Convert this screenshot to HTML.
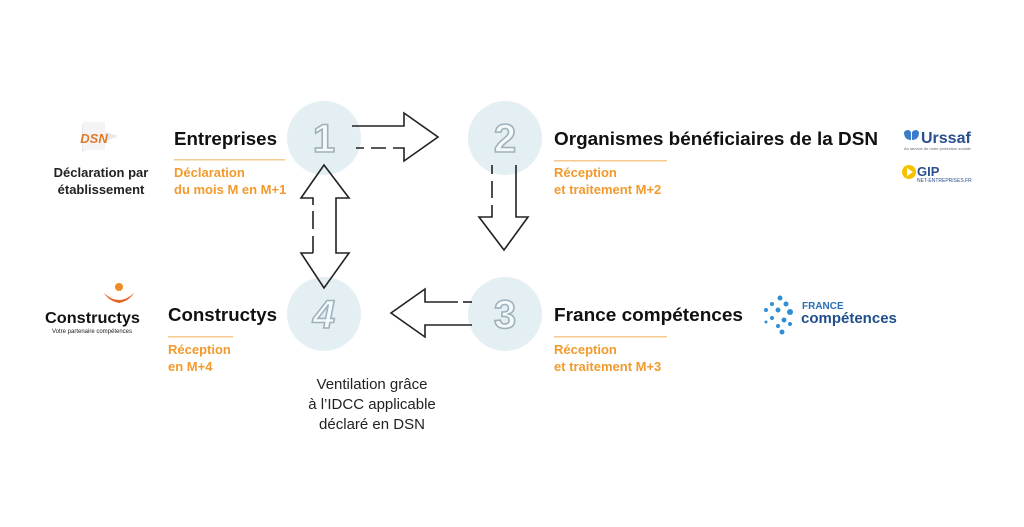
<!DOCTYPE html>
<html><head><meta charset="utf-8"><style>
html,body{margin:0;padding:0;background:#fff;}
svg{display:block}
text{font-family:"Liberation Sans",sans-serif;}
.t{font-size:18px;font-weight:bold;fill:#111;}
.o{font-size:13px;font-weight:bold;fill:#f29a2e;}
.n{font-size:40px;font-weight:bold;fill:#f4f9fa;stroke:#9fb1bd;stroke-width:1.6;}
</style></head><body>
<svg width="1024" height="527" viewBox="0 0 1024 527">
<rect width="1024" height="527" fill="#fff"/>
<g fill="#e3eff2">
<circle cx="324" cy="138" r="37"/><circle cx="505" cy="138" r="37"/>
<circle cx="505" cy="314" r="37"/><circle cx="324" cy="314" r="37"/>
</g>
<text class="n" x="324" y="152" text-anchor="middle">1</text>
<text class="n" x="505" y="152" text-anchor="middle">2</text>
<text class="n" x="505" y="328" text-anchor="middle">3</text>
<text class="n" x="324" y="328" text-anchor="middle" font-style="italic">4</text>
<g fill="none" stroke="#222" stroke-width="1.6">
<path d="M352 126 H404 V113 L438 137 L404 161 V148 H393"/>
<path d="M356 148 H364 M371 148 H386"/>
<path d="M516 165 V217 H528 L504 250 L479 217 H492 V205"/>
<path d="M492 165 V174 M492 181 V198"/>
<path d="M472 325 H425 V337 L391 313 L425 289 V302 H458"/>
<path d="M463 302 H472"/>
<path d="M313 253 V236 M313 229 V211 M313 205 V198 H301 L324 165 L349 198 H336 V253 H349 L324 288 L301 253 H313"/>
</g>
<path d="M82 124 L118 136 L82 152 Z" fill="#e8e8ec"/>
<rect x="83" y="122" width="22" height="28" fill="#f4f4f6"/>
<text x="94" y="143" font-size="13" font-weight="bold" fill="#e07a2a" text-anchor="middle" font-style="italic">DSN</text>
<text x="101" y="177" font-size="13" font-weight="bold" fill="#222" text-anchor="middle">Déclaration par</text>
<text x="101" y="194" font-size="13" font-weight="bold" fill="#222" text-anchor="middle">établissement</text>
<text class="t" x="174" y="145" textLength="103" lengthAdjust="spacingAndGlyphs">Entreprises</text>
<rect x="174" y="159" width="111" height="1.5" fill="#f6c98f"/>
<text class="o" x="174" y="177">Déclaration</text>
<text class="o" x="174" y="194">du mois M en M+1</text>
<text class="t" x="554" y="145" textLength="324" lengthAdjust="spacingAndGlyphs">Organismes bénéficiaires de la DSN</text>
<rect x="554" y="160" width="113" height="1.5" fill="#f6c98f"/>
<text class="o" x="554" y="177">Réception</text>
<text class="o" x="554" y="194">et traitement M+2</text>
<path d="M904 132 q4 -4 7 0 v8 q-7 0 -7 -8z M912 132 q4 -4 7 0 q0 8 -7 8z" fill="#3d7cc9"/>
<text x="921" y="143" font-size="16" font-weight="bold" fill="#2a4f8f">Urssaf</text>
<text x="904" y="150" font-size="4" fill="#667">Au service de notre protection sociale</text>
<circle cx="909" cy="172" r="7" fill="#f5c200"/>
<path d="M907 168 L913 172 L907 176Z" fill="#fff"/>
<text x="917" y="176" font-size="13" font-weight="bold" fill="#2a4f8f">GIP</text>
<text x="917" y="182" font-size="5" fill="#2a4f8f">NET-ENTREPRISES.FR</text>
<text class="t" x="554" y="321" textLength="189" lengthAdjust="spacingAndGlyphs">France compétences</text>
<rect x="554" y="336" width="113" height="1.5" fill="#f6c98f"/>
<text class="o" x="554" y="354">Réception</text>
<text class="o" x="554" y="371">et traitement M+3</text>
<g fill="#2f8fd6">
<circle cx="780" cy="298" r="2.5"/><circle cx="772" cy="304" r="2"/><circle cx="786" cy="304" r="2.5"/>
<circle cx="766" cy="310" r="2"/><circle cx="778" cy="310" r="2.5"/><circle cx="790" cy="312" r="3"/>
<circle cx="772" cy="318" r="2"/><circle cx="784" cy="320" r="2.5"/><circle cx="766" cy="322" r="1.5"/>
<circle cx="778" cy="326" r="2"/><circle cx="790" cy="324" r="2"/><circle cx="782" cy="332" r="2.5"/>
</g>
<text x="802" y="309" font-size="10" font-weight="bold" fill="#2a6fb5">FRANCE</text>
<text x="801" y="323" font-size="15" font-weight="bold" fill="#1f4f8a">compétences</text>
<circle cx="119" cy="287" r="4" fill="#f08a24"/>
<path d="M104 293 q15 14 30 0 q-5 8 -15 10 q-10 -2 -15 -10z" fill="#e8631f"/>
<text x="45" y="323" font-size="16" font-weight="bold" fill="#111" textLength="95" lengthAdjust="spacingAndGlyphs">Constructys</text>
<text x="92" y="333" font-size="6" fill="#222" text-anchor="middle">Votre partenaire compétences</text>
<text class="t" x="168" y="321" textLength="109" lengthAdjust="spacingAndGlyphs">Constructys</text>
<rect x="168" y="336" width="65" height="1.5" fill="#f6c98f"/>
<text class="o" x="168" y="354">Réception</text>
<text class="o" x="168" y="371">en M+4</text>
<g font-size="15" fill="#222" text-anchor="middle">
<text x="372" y="389">Ventilation grâce</text>
<text x="372" y="409">à l’IDCC applicable</text>
<text x="372" y="429">déclaré en DSN</text>
</g>
</svg>
</body></html>
